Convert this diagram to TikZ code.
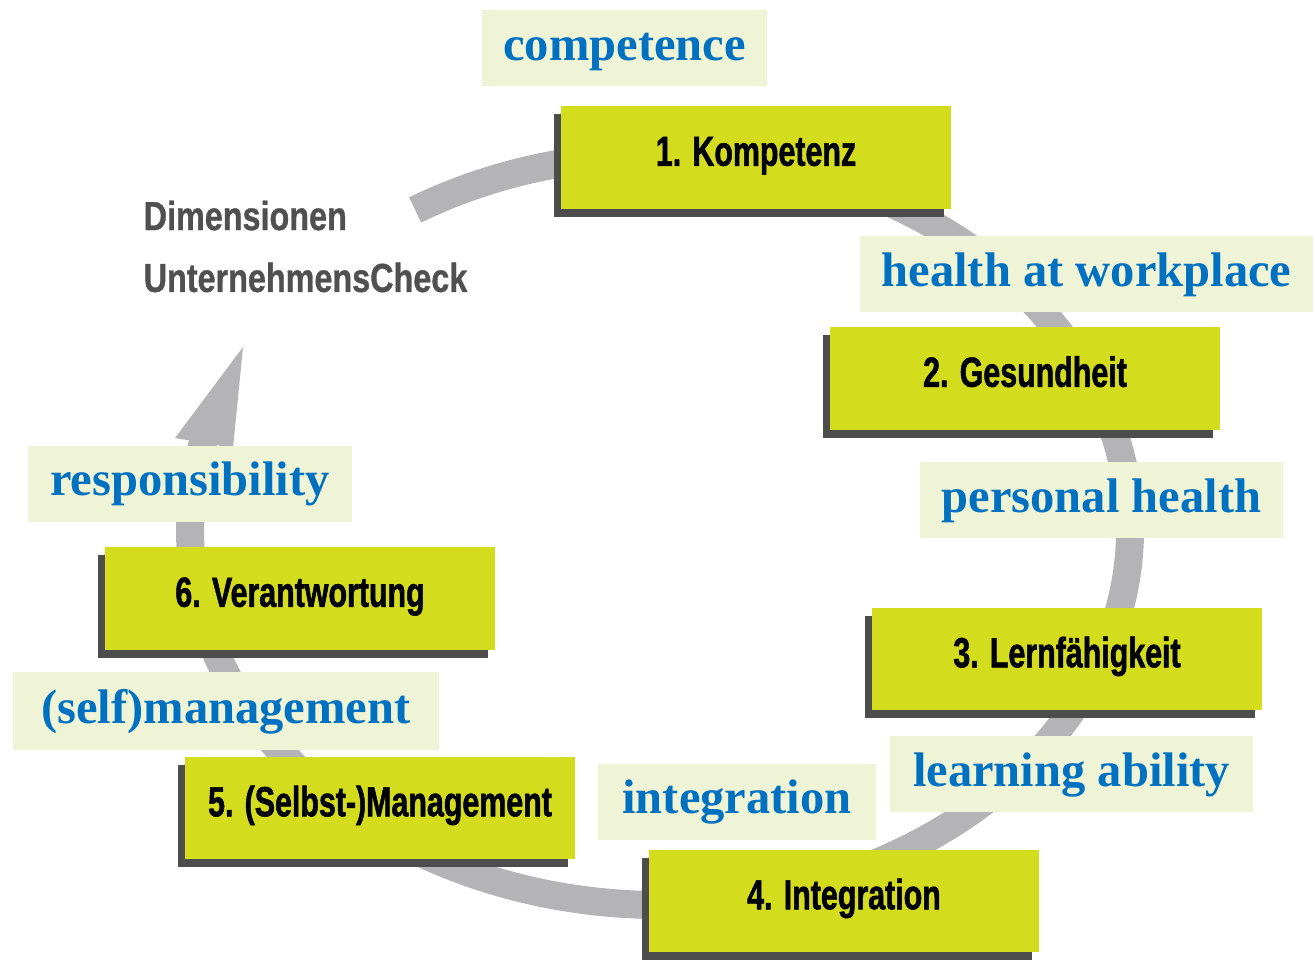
\documentclass[tikz,border=0pt]{standalone}
\usepackage{fontspec}
\setmainfont{Liberation Serif}
\newfontfamily\boxfont[FakeStretch=0.72,BoldFeatures={FakeBold=1.2}]{Liberation Sans}
\newfontfamily\headfont[FakeStretch=0.8,BoldFeatures={FakeBold=0.8}]{Liberation Sans}
\usetikzlibrary{shadows}
\definecolor{dimyellow}{RGB}{212,220,30}
\definecolor{dimshadow}{RGB}{77,77,77}
\definecolor{ringgray}{RGB}{180,180,183}
\definecolor{labelcream}{RGB}{240,244,214}
\definecolor{labelblue}{RGB}{0,112,192}
\definecolor{headgray}{RGB}{80,80,80}

\begin{document}
\begin{tikzpicture}[x=0.01cm,y=-0.01cm,
  dimbox/.style={fill=dimyellow, minimum width=3.9cm, minimum height=1.02cm, inner sep=0pt,
    text height=0.72em, text depth=0.25em,
    font=\boxfont\bfseries\fontsize{12}{14}\selectfont,
    drop shadow={shadow xshift=-0.07cm, shadow yshift=-0.08cm, fill=dimshadow, opacity=1}},
  engl/.style={fill=labelcream, minimum height=0.76cm, inner sep=0pt, text=labelblue,
    text height=0.9em, text depth=0.2em,
    font=\bfseries\fontsize{13.8}{16}\selectfont}]

  \useasboundingbox (0,0) rectangle (1315,959);

  % ring with arrow head
  \draw [ringgray, line width=0.28cm] (660,530) ++(238.6:470 and 375)
    arc [start angle=238.6, end angle=556, x radius=470, y radius=375];
  \fill [ringgray] (175,438) -- (243,347) -- (233,448) -- cycle;

  \node [anchor=north west, inner sep=0pt, align=left, text=headgray,
    font=\headfont\bfseries\fontsize{11.5}{17.6}\selectfont] (titel) at (143,200)
    {Dimensionen\\UnternehmensCheck};

  % the six dimensions
  \node [dimbox] (kompetenz)  at (756,157.5) {1. Kompetenz};
  \node [dimbox] (gesundheit) at (1025,378.5) {2. Gesundheit};
  \node [dimbox] (lernen)     at (1067,659) {3. Lernfähigkeit};
  \node [dimbox] (integration) at (844,901) {4. Integration};
  \node [dimbox] (management) at (380,808) {5. (Selbst-)Management};
  \node [dimbox] (verantwortung) at (300,598.5) {6. Verantwortung};

  % english labels
  \node [engl, minimum width=2.85cm] (competence) at (624.5,48) {competence};
  \node [engl, minimum width=4.53cm] (workplace)  at (1086.5,274) {health at workplace};
  \node [engl, minimum width=3.63cm] (personal)   at (1101.5,500) {personal health};
  \node [engl, minimum width=3.63cm] (learning)   at (1071.5,774) {learning ability};
  \node [engl, minimum width=2.78cm] (integr)     at (737,801.5) {integration};
  \node [engl, minimum width=3.24cm] (responsib)  at (190,483.5) {responsibility};
  \node [engl, minimum width=4.26cm, minimum height=0.78cm] (selfmgmt) at (226,711) {(self)management};

\end{tikzpicture}
\end{document}
